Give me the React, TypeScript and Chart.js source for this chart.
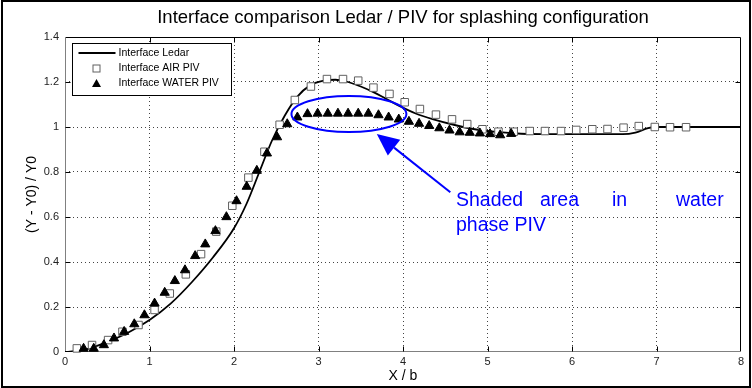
import React, { useEffect, useRef } from "react";
import { Chart, registerables } from "chart.js";
Chart.register(...registerables);

// ---------- data ----------
const chartTitle = "Interface comparison Ledar / PIV for splashing configuration";
const xAxisTitle = "X / b";
const yAxisTitle = "(Y - Y0) / Y0";
const seriesLabels = ["Interface Ledar", "Interface AIR PIV", "Interface WATER PIV"];
const noteWords = ["Shaded", "area", "in", "water"];
const noteLine2 = "phase PIV";

const xTickValues = [0, 1, 2, 3, 4, 5, 6, 7, 8];
const xTickLabels = ["0", "1", "2", "3", "4", "5", "6", "7", "8"];
const yTickValues = [0, 0.2, 0.4, 0.6, 0.8, 1, 1.2, 1.4];
const yTickLabels = ["0", "0.2", "0.4", "0.6", "0.8", "1", "1.2", "1.4"];

const ledarX = [0, 0.25, 0.5, 0.75, 1.0, 1.25, 1.5, 1.75, 2.0, 2.15, 2.3, 2.45, 2.6, 2.75, 2.9, 3.05, 3.2, 3.35, 3.5, 3.65, 3.8, 3.95, 4.15, 4.35, 4.6, 4.85, 5.1, 5.4, 5.8, 6.2, 6.6, 6.75, 6.9, 7.0, 8.0];
const ledarY = [0, 0.012, 0.045, 0.087, 0.142, 0.215, 0.31, 0.42, 0.55, 0.66, 0.8, 0.94, 1.05, 1.135, 1.185, 1.205, 1.21, 1.2, 1.18, 1.155, 1.125, 1.095, 1.06, 1.035, 1.01, 0.99, 0.978, 0.97, 0.968, 0.968, 0.968, 0.975, 0.995, 1.0, 1.0];

const airX = [0.14, 0.32, 0.51, 0.68, 0.87, 1.06, 1.24, 1.43, 1.61, 1.79, 1.98, 2.17, 2.36, 2.54, 2.72, 2.91, 3.10, 3.29, 3.47, 3.65, 3.84, 4.02, 4.20, 4.39, 4.58, 4.76, 4.94, 5.13, 5.31, 5.50, 5.68, 5.87, 6.05, 6.24, 6.42, 6.61, 6.79, 6.98, 7.16, 7.35];
const airY = [0.016, 0.031, 0.053, 0.09, 0.12, 0.187, 0.26, 0.345, 0.435, 0.535, 0.65, 0.775, 0.89, 1.01, 1.12, 1.18, 1.213, 1.213, 1.206, 1.175, 1.147, 1.11, 1.08, 1.055, 1.034, 1.013, 0.99, 0.979, 0.979, 0.982, 0.982, 0.982, 0.987, 0.99, 0.991, 0.997, 1.004, 1.0, 0.999, 0.999];

const waterX = [0.22, 0.34, 0.46, 0.58, 0.70, 0.82, 0.94, 1.06, 1.18, 1.30, 1.42, 1.54, 1.66, 1.78, 1.91, 2.03, 2.15, 2.27, 2.39, 2.51, 2.63, 2.75, 2.87, 2.99, 3.11, 3.23, 3.35, 3.47, 3.59, 3.71, 3.83, 3.95, 4.07, 4.19, 4.31, 4.43, 4.55, 4.67, 4.79, 4.91, 5.03, 5.15, 5.28];
const waterY = [0.015, 0.015, 0.031, 0.061, 0.09, 0.124, 0.164, 0.216, 0.264, 0.316, 0.364, 0.427, 0.479, 0.538, 0.6, 0.671, 0.735, 0.806, 0.883, 0.955, 1.013, 1.043, 1.058, 1.06, 1.06, 1.06, 1.06, 1.06, 1.06, 1.053, 1.043, 1.034, 1.024, 1.015, 1.005, 0.995, 0.985, 0.977, 0.975, 0.972, 0.969, 0.964, 0.97];

// ---------- styles ----------
const FONT = "Arial, 'Liberation Sans', sans-serif";
const BLUE = "#0000ff";

const pts = (xs: number[], ys: number[]) => xs.map((x, i) => ({ x, y: ys[i] }));

const framePlugin = {
  id: "frame",
  beforeDatasetsDraw(chart: any) {
    const { ctx, chartArea: a, scales } = chart;
    const xs = scales.x, ys = scales.y;
    ctx.save();
    ctx.lineWidth = 1;
    const L = Math.round(a.left) + 0.5, R = Math.round(a.right) - 0.5;
    const T = Math.round(a.top) + 0.5, B = Math.round(a.bottom) - 0.5;
    ctx.strokeStyle = "#000";
    ctx.beginPath();
    ctx.moveTo(L, T); ctx.lineTo(R, T); ctx.lineTo(R, B);
    ctx.stroke();
    ctx.strokeStyle = "#808080";
    ctx.beginPath();
    ctx.moveTo(L, T); ctx.lineTo(L, B); ctx.lineTo(R, B);
    ctx.stroke();
    ctx.strokeStyle = "#000";
    ctx.beginPath();
    const tl = 5;
    xTickValues.slice(1, -1).forEach((v) => {
      const px = Math.round(xs.getPixelForValue(v)) + 0.5;
      ctx.moveTo(px, B); ctx.lineTo(px, B - tl);
      ctx.moveTo(px, T); ctx.lineTo(px, T + tl);
    });
    yTickValues.slice(1, -1).forEach((v) => {
      const py = Math.round(ys.getPixelForValue(v)) + 0.5;
      ctx.moveTo(L, py); ctx.lineTo(L + tl, py);
      ctx.moveTo(R, py); ctx.lineTo(R - tl, py);
    });
    ctx.stroke();
    ctx.restore();
  },
  afterDraw(chart: any) {
    const { ctx, width, height } = chart;
    ctx.save();
    ctx.strokeStyle = "#000";
    ctx.lineWidth = 2;
    ctx.strokeRect(2, 1, width - 4, height - 2);
    ctx.restore();
  },
};

const legendPlugin = {
  id: "matlabLegend",
  afterDatasetsDraw(chart: any) {
    const { ctx, chartArea: a } = chart;
    const bx = Math.round(a.left) + 7.5, by = Math.round(a.top) + 6.5;
    const bw = 159, bh = 52;
    ctx.save();
    ctx.fillStyle = "#fff";
    ctx.fillRect(bx, by, bw, bh);
    ctx.strokeStyle = "#000";
    ctx.lineWidth = 1;
    ctx.strokeRect(bx, by, bw, bh);
    ctx.font = `10.5px ${FONT}`;
    ctx.textBaseline = "middle";
    ctx.textAlign = "left";
    const rowY = [by + 9.5, by + 25, by + 40];
    const sx = bx + 24, textX = bx + 46;
    chart.data.datasets.forEach((ds: any, i: number) => {
      const yy = rowY[i];
      if (i === 0) {
        ctx.strokeStyle = ds.borderColor;
        ctx.lineWidth = ds.borderWidth;
        ctx.beginPath();
        ctx.moveTo(bx + 6, yy); ctx.lineTo(bx + 43, yy);
        ctx.stroke();
      } else if (ds.pointStyle === "rect") {
        ctx.fillStyle = "#fff";
        ctx.strokeStyle = ds.pointBorderColor;
        ctx.lineWidth = 1;
        ctx.fillRect(sx - 3.5, yy - 3.5, 7, 7);
        ctx.strokeRect(sx - 3.5, yy - 3.5, 7, 7);
      } else {
        ctx.fillStyle = ds.pointBackgroundColor;
        ctx.beginPath();
        ctx.moveTo(sx, yy - 4.5); ctx.lineTo(sx + 4.5, yy + 3.5); ctx.lineTo(sx - 4.5, yy + 3.5);
        ctx.closePath();
        ctx.fill();
      }
      ctx.fillStyle = "#000";
      ctx.fillText(ds.label, textX, yy);
    });
    ctx.restore();
  },
};

const notePlugin = {
  id: "note",
  afterDatasetsDraw(chart: any) {
    const { ctx, scales } = chart;
    const xs = scales.x, ys = scales.y;
    const px = (v: number) => xs.getPixelForValue(v);
    const py = (v: number) => ys.getPixelForValue(v);
    ctx.save();
    ctx.strokeStyle = BLUE;
    ctx.fillStyle = BLUE;
    ctx.lineWidth = 2;
    // ellipse around the shaded region
    const cx = px(3.36), cy = py(1.058);
    const rx = px(3.36 + 0.68) - cx, ry = cy - py(1.058 + 0.08);
    ctx.beginPath();
    ctx.ellipse(cx, cy, rx, ry, 0, 0, Math.PI * 2);
    ctx.stroke();
    // arrow
    const tipX = px(3.69), tipY = py(0.969);
    const tailX = px(4.56), tailY = py(0.71);
    const ang = Math.atan2(tailY - tipY, tailX - tipX);
    const hl = 22, hw = 10;
    const baseX = tipX + Math.cos(ang) * hl, baseY = tipY + Math.sin(ang) * hl;
    ctx.beginPath();
    ctx.moveTo(baseX, baseY); ctx.lineTo(tailX, tailY);
    ctx.stroke();
    ctx.beginPath();
    ctx.moveTo(tipX, tipY);
    ctx.lineTo(baseX - Math.sin(ang) * hw, baseY + Math.cos(ang) * hw);
    ctx.lineTo(baseX + Math.sin(ang) * hw, baseY - Math.cos(ang) * hw);
    ctx.closePath();
    ctx.fill();
    // text (first line justified like the original)
    ctx.font = `19.5px ${FONT}`;
    ctx.textBaseline = "middle";
    ctx.textAlign = "left";
    const x0 = px(4.627);
    const l1y = py(0.671), l2y = py(0.56);
    const offsets = [0, 84, 156, 220];
    noteWords.forEach((w, i) => ctx.fillText(w, x0 + offsets[i], l1y));
    ctx.fillText(noteLine2, x0, l2y);
    ctx.restore();
  },
};

export default function App() {
  const ref = useRef<HTMLCanvasElement>(null);
  useEffect(() => {
    if (!ref.current) return;
    Chart.defaults.font.family = FONT;
    const gridColor = (edgeA: number, edgeB: number) => (c: any) =>
      c.tick && (Math.abs(c.tick.value - edgeA) < 1e-9 || Math.abs(c.tick.value - edgeB) < 1e-9) ? "rgba(0,0,0,0)" : "#444";
    const chart = new Chart(ref.current, {
      type: "scatter",
      data: {
        datasets: [
          {
            label: seriesLabels[0],
            data: pts(ledarX, ledarY),
            showLine: true,
            borderColor: "#000",
            borderWidth: 1.8,
            pointRadius: 0,
            cubicInterpolationMode: "monotone",
            order: 3,
          },
          {
            label: seriesLabels[1],
            data: pts(airX, airY),
            pointStyle: "rect",
            pointRadius: 5.3,
            pointBorderColor: "#606060",
            pointBackgroundColor: "#fff",
            pointBorderWidth: 1,
            clip: false,
            order: 2,
          },
          {
            label: seriesLabels[2],
            data: pts(waterX, waterY),
            pointStyle: "triangle",
            pointRadius: 5.3,
            pointBorderColor: "#000",
            pointBackgroundColor: "#000",
            pointBorderWidth: 1,
            clip: false,
            order: 1,
          },
        ] as any,
      },
      options: {
        animation: false,
        responsive: false,
        devicePixelRatio: 1,
        layout: { padding: { left: 0, right: 11, top: 0, bottom: 0 } },
        scales: {
          x: {
            type: "linear",
            min: 0,
            max: 8,
            afterBuildTicks: (s: any) => { s.ticks = xTickValues.map((v) => ({ value: v })); },
            afterFit: (s: any) => { s.height = 36; },
            ticks: {
              callback: (_v: any, i: number) => xTickLabels[i],
              font: { size: 11, family: FONT },
              color: "#222",
              padding: 3,
              maxRotation: 0,
            },
            grid: { drawTicks: false, color: gridColor(0, 8), lineWidth: 1 },
            border: { display: false, dash: [1, 3] },
            title: { display: true, text: xAxisTitle, font: { size: 14, family: FONT }, color: "#000", padding: { top: 0, bottom: 3.6 } },
          },
          y: {
            type: "linear",
            min: 0,
            max: 1.4,
            afterBuildTicks: (s: any) => { s.ticks = yTickValues.map((v) => ({ value: v })); },
            afterFit: (s: any) => { s.width = 65; },
            ticks: {
              callback: (_v: any, i: number) => yTickLabels[i],
              font: { size: 11, family: FONT },
              color: "#222",
              padding: 6,
            },
            grid: { drawTicks: false, color: gridColor(0, 1.4), lineWidth: 1 },
            border: { display: false, dash: [1, 3] },
            title: { display: true, text: yAxisTitle, font: { size: 14, family: FONT }, color: "#000", padding: { top: 23.6, bottom: 0 } },
          },
        },
        plugins: {
          legend: { display: false },
          tooltip: { enabled: false },
          title: {
            display: true,
            text: chartTitle,
            fullSize: false,
            color: "#000",
            font: { size: 18.5, family: FONT, weight: "normal", lineHeight: 1.2 },
            padding: { top: 6.9, bottom: 7.9 },
          },
        },
      } as any,
      plugins: [framePlugin, legendPlugin, notePlugin],
    });
    return () => chart.destroy();
  }, []);
  return (
    <div style={{ position: "absolute", left: 0, top: 0, width: 752, height: 388, background: "#fff" }}>
      <canvas ref={ref} width={752} height={388} />
    </div>
  );
}
